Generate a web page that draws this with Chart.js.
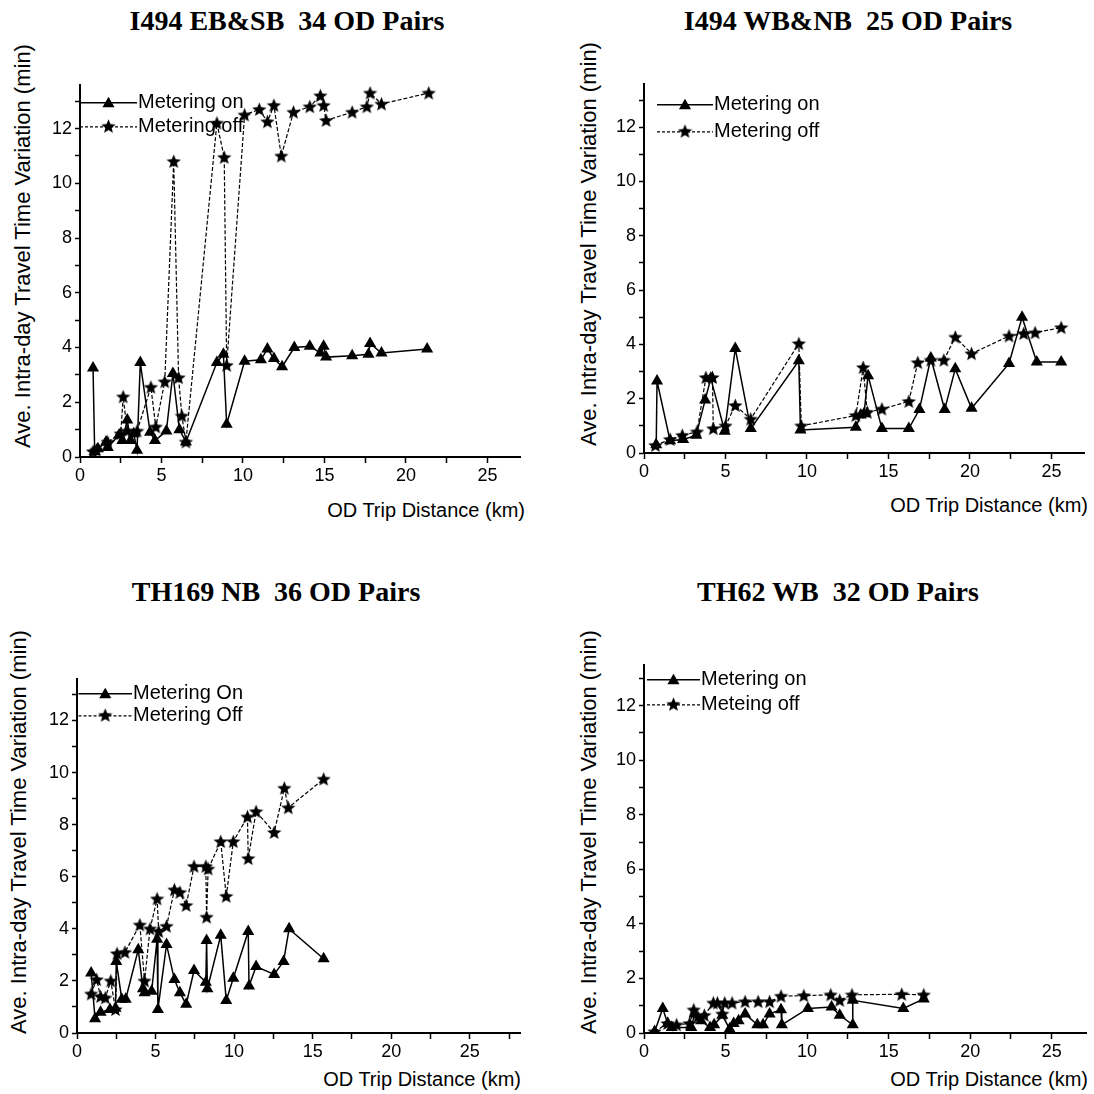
<!DOCTYPE html>
<html>
<head>
<meta charset="utf-8">
<script src="https://cdn.jsdelivr.net/npm/chart.js@4/dist/chart.umd.min.js"></script>
<style>
  body { margin: 0; background: #fff; width: 1094px; height: 1094px; position: relative; overflow: hidden; font-family: "Liberation Sans", Arial, sans-serif; }
  .title { position: absolute; font: bold 28px "Liberation Serif", "Times New Roman", serif; line-height: 1; white-space: nowrap; transform: translateX(-50%); }
  .xt { position: absolute; font-size: 20px; line-height: 1; white-space: nowrap; transform: translate(-100%, -50%); }
  .yt { position: absolute; font-size: 22px; line-height: 1; white-space: nowrap; transform: translate(-50%, -50%) rotate(-90deg); }
  canvas { position: absolute; }
</style>
</head>
<body>
<div class="title" style="left:287px;top:7px">I494 EB&amp;SB&nbsp; 34 OD Pairs</div>
<div class="title" style="left:848px;top:7px">I494 WB&amp;NB&nbsp; 25 OD Pairs</div>
<div class="title" style="left:276px;top:578px">TH169 NB&nbsp; 36 OD Pairs</div>
<div class="title" style="left:838px;top:578px">TH62 WB&nbsp; 32 OD Pairs</div>

<div class="yt" style="left:23px;top:246px">Ave. Intra-day Travel Time Variation (min)</div>
<div class="yt" style="left:589px;top:244px">Ave. Intra-day Travel Time Variation (min)</div>
<div class="yt" style="left:19px;top:832px">Ave. Intra-day Travel Time Variation (min)</div>
<div class="yt" style="left:589px;top:832px">Ave. Intra-day Travel Time Variation (min)</div>

<div class="xt" style="left:525px;top:510px">OD Trip Distance (km)</div>
<div class="xt" style="left:1088px;top:505px">OD Trip Distance (km)</div>
<div class="xt" style="left:521px;top:1079px">OD Trip Distance (km)</div>
<div class="xt" style="left:1088px;top:1079px">OD Trip Distance (km)</div>

<canvas id="c1"></canvas>
<canvas id="c2"></canvas>
<canvas id="c3"></canvas>
<canvas id="c4"></canvas>

<script>
// [distance km, variation min]
const ebOn = [[0.8,3.25],[0.9,0.2],[1.1,0.3],[1.6,0.55],[1.7,0.35],[2.4,0.8],[2.6,0.6],[2.9,1.35],[3.1,0.6],[3.3,0.85],[3.5,0.25],[3.7,3.45],[4.3,0.9],[4.6,0.6],[5.3,0.95],[5.7,3.05],[6.1,1.0],[6.5,0.55],[8.4,3.45],[8.8,3.75],[9.0,1.2],[10.1,3.5],[11.1,3.55],[11.5,3.95],[11.9,3.6],[12.4,3.3],[13.15,4.0],[14.1,4.05],[14.75,3.8],[14.95,4.05],[15.1,3.65],[16.7,3.7],[17.7,3.75],[17.8,4.15],[18.5,3.8],[21.3,3.95]];
const ebOff = [[0.8,0.2],[1.0,0.25],[1.7,0.55],[2.5,0.85],[2.65,2.2],[2.9,0.95],[3.5,0.95],[4.35,2.55],[4.65,1.1],[5.2,2.75],[5.75,10.8],[6.05,2.9],[6.25,1.5],[6.5,0.55],[8.4,12.2],[8.85,10.95],[9.0,3.35],[10.1,12.5],[11.0,12.7],[11.5,12.25],[11.9,12.85],[12.35,11.0],[13.1,12.6],[14.1,12.8],[14.75,13.2],[14.95,12.85],[15.1,12.3],[16.7,12.6],[17.6,12.8],[17.8,13.3],[18.5,12.9],[21.4,13.3]];

const wbOn = [[0.75,0.3],[0.8,2.65],[1.6,0.45],[2.4,0.5],[3.2,0.65],[3.75,1.95],[4.1,2.75],[4.95,0.8],[5.6,3.85],[6.55,0.9],[9.5,3.4],[9.6,0.85],[13.0,0.95],[13.3,1.4],[13.5,1.45],[13.75,2.85],[14.6,0.9],[16.25,0.9],[16.9,1.6],[17.6,3.5],[18.45,1.6],[19.1,3.1],[20.1,1.65],[22.4,3.3],[23.2,5.0],[24.1,3.35],[25.6,3.35]];
const wbOff = [[0.7,0.28],[1.6,0.5],[2.35,0.65],[3.25,0.78],[3.8,2.78],[4.2,2.78],[4.25,0.9],[5.0,1.0],[5.6,1.75],[6.55,1.25],[9.5,4.03],[9.65,1.0],[13.0,1.38],[13.45,3.15],[13.7,1.5],[14.6,1.62],[16.25,1.9],[16.8,3.33],[17.6,3.42],[18.4,3.42],[19.1,4.27],[20.1,3.66],[22.4,4.31],[23.3,4.4],[24.0,4.43],[25.6,4.62]];

const thOn = [[0.9,2.3],[1.15,0.55],[1.5,0.8],[2.1,0.9],[2.45,0.95],[2.5,2.75],[2.85,1.3],[3.1,1.3],[3.9,3.2],[4.2,1.7],[4.3,1.55],[4.75,1.6],[5.1,3.6],[5.15,0.9],[5.7,3.4],[6.2,2.05],[6.55,1.55],[6.95,1.1],[7.45,2.4],[8.2,1.95],[8.25,3.55],[8.3,1.7],[9.15,3.75],[9.5,1.25],[9.95,2.1],[10.9,3.9],[10.95,1.8],[11.4,2.55],[12.55,2.25],[13.15,2.75],[13.5,4.0],[15.7,2.85]];
const thOff = [[0.9,1.5],[1.25,2.05],[1.5,1.4],[1.8,1.35],[2.15,2.0],[2.45,0.9],[2.55,3.05],[3.05,3.1],[4.0,4.15],[4.3,2.0],[4.65,4.0],[5.1,5.15],[5.2,3.9],[5.7,4.1],[6.2,5.5],[6.55,5.4],[6.95,4.9],[7.45,6.4],[8.2,6.4],[8.25,4.45],[8.35,6.3],[9.15,7.35],[9.5,5.25],[9.95,7.35],[10.85,8.3],[10.9,6.7],[11.4,8.5],[12.55,7.7],[13.2,9.4],[13.45,8.65],[15.7,9.75]];

const th62On = [[0.65,0.05],[1.15,0.9],[1.45,0.35],[1.7,0.2],[2.9,0.2],[3.1,0.7],[3.5,0.45],[4.05,0.2],[4.3,0.3],[4.8,0.65],[5.25,0.15],[5.5,0.35],[5.8,0.45],[6.2,0.7],[6.95,0.3],[7.3,0.3],[7.7,0.7],[8.4,0.85],[8.45,0.3],[10.05,0.9],[11.5,0.95],[12.0,0.65],[12.8,0.3],[12.8,1.2],[15.9,0.9],[17.15,1.25]];
const th62Off = [[0.65,0.05],[1.45,0.35],[2.0,0.3],[2.8,0.35],[3.05,0.85],[3.3,0.6],[3.7,0.65],[4.25,1.1],[4.5,1.1],[4.8,0.7],[4.95,1.1],[5.4,1.1],[6.2,1.15],[7.0,1.15],[7.7,1.15],[8.4,1.35],[9.8,1.37],[11.45,1.4],[12.0,1.2],[12.75,1.4],[15.8,1.42],[17.15,1.4]];

const onLabels = ["Metering on", "Metering on", "Metering On", "Metering on"];
const offLabels = ["Metering off", "Metering off", "Metering Off", "Meteing off"];

const FONT = "'Liberation Sans', Arial, sans-serif";

// filled five-point star marker
const starImg = document.createElement("canvas");
starImg.width = 15; starImg.height = 15;
(() => {
  const g = starImg.getContext("2d");
  g.fillStyle = "#000";
  g.beginPath();
  for (let i = 0; i < 10; i++) {
    const r = i % 2 === 0 ? 7.5 : 3.3;
    const a = -Math.PI / 2 + i * Math.PI / 5;
    const px = 7.5 + r * Math.cos(a), py = 8 + r * Math.sin(a);
    i === 0 ? g.moveTo(px, py) : g.lineTo(px, py);
  }
  g.closePath();
  g.fill();
})();

function tri(ctx, x, y, r) {
  ctx.beginPath();
  ctx.moveTo(x, y - r);
  ctx.lineTo(x + r * 0.866, y + r / 2);
  ctx.lineTo(x - r * 0.866, y + r / 2);
  ctx.closePath();
  ctx.fill();
}

const insideLegend = {
  id: "insideLegend",
  afterDraw(chart, args, o) {
    const ctx = chart.ctx, ca = chart.chartArea;
    const x0 = ca.left + o.dx0, x1 = ca.left + o.dx1, xm = (x0 + x1) / 2;
    ctx.save();
    ctx.strokeStyle = "#000"; ctx.fillStyle = "#000";
    ctx.font = "20px " + FONT;
    ctx.textBaseline = "middle";
    // row 1: solid + triangle
    let y = ca.top + o.row1;
    ctx.lineWidth = 1.5; ctx.setLineDash([]);
    ctx.beginPath(); ctx.moveTo(x0, y); ctx.lineTo(x1, y); ctx.stroke();
    tri(ctx, xm, y + 1, 7);
    ctx.fillText(chart.data.datasets[0].label, x1 + 1, y);
    // row 2: dashed + star
    y = ca.top + o.row2;
    ctx.lineWidth = 1.2; ctx.setLineDash([3, 2]);
    ctx.beginPath(); ctx.moveTo(x0, y); ctx.lineTo(x1, y); ctx.stroke();
    ctx.setLineDash([]);
    ctx.drawImage(starImg, xm - 7.5, y - 8);
    ctx.fillText(chart.data.datasets[1].label, x1 + 1, y);
    ctx.restore();
  }
};

function pts(arr) { return arr.map(p => ({ x: p[0], y: p[1] })); }

// plot rectangles in page pixels
const panels = [
  { id: "c1", on: ebOn, off: ebOff, left: 80, top: 83, right: 519.5, bottom: 457, xmax: 27.0, ymax: 13.6, leg: { dx0: 0, dx1: 57, row1: 18, row2: 42 } },
  { id: "c2", on: wbOn, off: wbOff, left: 643.5, top: 81.5, right: 1083.5, bottom: 452.7, xmax: 27.0, ymax: 13.6, leg: { dx0: 13, dx1: 69, row1: 21, row2: 48 } },
  { id: "c3", on: thOn, off: thOff, left: 76.7, top: 677, right: 520, bottom: 1033.3, xmax: 28.2, ymax: 13.6, leg: { dx0: 1.5, dx1: 55, row1: 15, row2: 37 } },
  { id: "c4", on: th62On, off: th62Off, left: 644.3, top: 663.4, right: 1086, bottom: 1033.3, xmax: 27.1, ymax: 13.5, leg: { dx0: 3, dx1: 56, row1: 15, row2: 40 } }
];

const YW = 40, XH = 40, PT = 12, PR = 10;

panels.forEach((p, i) => {
  const cv = document.getElementById(p.id);
  cv.width = Math.round(p.right - p.left) + YW + PR;
  cv.height = Math.round(p.bottom - p.top) + PT + XH;
  cv.style.left = (p.left - YW) + "px";
  cv.style.top = (p.top - PT) + "px";

  new Chart(cv, {
    type: "scatter",
    data: {
      datasets: [
        { label: onLabels[i], data: pts(p.on), showLine: true, borderColor: "#000", backgroundColor: "#000", borderWidth: 1.5,
          pointStyle: "triangle", pointRadius: 7, pointBorderWidth: 0, tension: 0 },
        { label: offLabels[i], data: pts(p.off), showLine: true, borderColor: "#000", backgroundColor: "#000", borderWidth: 1.2,
          borderDash: [4, 2], pointStyle: starImg, pointRadius: 7, tension: 0 }
      ]
    },
    options: {
      responsive: false, animation: false, devicePixelRatio: 1,
      layout: { padding: { left: 0, top: PT, right: PR, bottom: 0 } },
      plugins: { legend: { display: false }, tooltip: { enabled: false }, insideLegend: p.leg },
      scales: {
        x: {
          type: "linear", min: 0, max: p.xmax,
          afterFit(s) { s.height = XH; },
          border: { color: "#000", width: 2 },
          grid: { drawOnChartArea: false, color: "#000", tickLength: 6, tickWidth: 1.5 },
          ticks: { stepSize: 2.5, includeBounds: false, autoSkip: false, maxRotation: 0, color: "#000", padding: 2,
            font: { size: 18, family: FONT }, callback: v => (v % 5 === 0 ? v : "") }
        },
        y: {
          type: "linear", min: 0, max: p.ymax,
          afterFit(s) { s.width = YW; },
          border: { color: "#000", width: 2 },
          grid: { drawOnChartArea: false, color: "#000", tickLength: 5, tickWidth: 1.5 },
          ticks: { stepSize: 1, includeBounds: false, autoSkip: false, color: "#000", padding: 3,
            font: { size: 18, family: FONT }, callback: v => (v % 2 === 0 ? v : "") }
        }
      }
    },
    plugins: [insideLegend]
  });
});
</script>
</body>
</html>
